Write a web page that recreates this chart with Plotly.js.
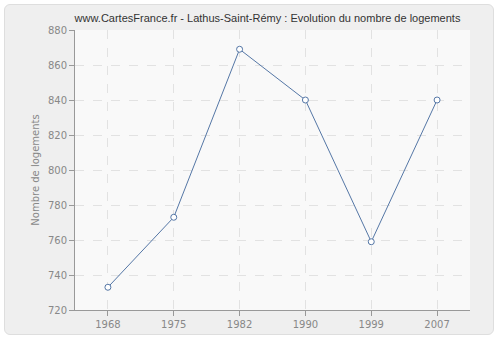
<!DOCTYPE html>
<html>
<head>
<meta charset="utf-8">
<script src="https://cdn.plot.ly/plotly-3.0.1.min.js"></script>
<style>
html,body{margin:0;padding:0;background:#fff;}
#wrap{position:relative;width:500px;height:340px;}
#box{position:absolute;left:4px;top:4px;width:490px;height:331px;background:#efefef;border:1px solid #dedede;border-radius:6px;box-sizing:border-box;}
#chart{position:absolute;left:0;top:0;width:500px;height:340px;}
</style>
</head>
<body>
<div id="wrap"><div id="box"></div><div id="chart"></div></div>
<script>
const years = ["1968","1975","1982","1990","1999","2007"];
const logements = [733, 773, 869, 840, 759, 840];
const yTicks = [720, 740, 760, 780, 800, 820, 840, 860, 880];

Plotly.newPlot('chart', [{
  x: years,
  y: logements,
  type: 'scatter',
  mode: 'lines+markers',
  line: {color: '#5577a6', width: 1},
  marker: {symbol: 'circle', size: 6, color: '#ffffff', line: {color: '#5577a6', width: 1}},
  hoverinfo: 'x+y'
}], {
  width: 500, height: 340,
  margin: {l: 75, r: 30, t: 30, b: 30},
  paper_bgcolor: 'rgba(0,0,0,0)',
  plot_bgcolor: '#f9f9f9',
  showlegend: false,
  title: {text: 'www.CartesFrance.fr - Lathus-Saint-Rémy : Evolution du nombre de logements',
    font: {family: 'Liberation Sans, Arial, sans-serif', size: 11, color: '#333'}, x: 0.535, xanchor: 'center', y: 0.947, yanchor: 'middle'},
  xaxis: {
    type: 'category', range: [-0.5, 5.5],
    showline: true, linecolor: '#999', linewidth: 1,
    ticks: 'outside', ticklen: 5, tickcolor: '#999',
    showgrid: true, gridcolor: '#e2e2e2', griddash: 'dash', gridwidth: 1,
    tickfont: {family: 'DejaVu Sans, sans-serif', size: 10, color: '#888'},
    zeroline: false, fixedrange: true
  },
  yaxis: {
    range: [720, 880], tickvals: yTicks,
    showline: true, linecolor: '#999', linewidth: 1,
    ticks: 'outside', ticklen: 5, tickcolor: '#999',
    showgrid: true, gridcolor: '#e2e2e2', griddash: 'dash', gridwidth: 1,
    tickfont: {family: 'DejaVu Sans, sans-serif', size: 10, color: '#888'},
    title: {text: 'Nombre de logements', font: {family: 'DejaVu Sans, sans-serif', size: 10, color: '#888'}, standoff: 6},
    zeroline: false, fixedrange: true
  }
}, {displayModeBar: false, staticPlot: true});
</script>
</body>
</html>
